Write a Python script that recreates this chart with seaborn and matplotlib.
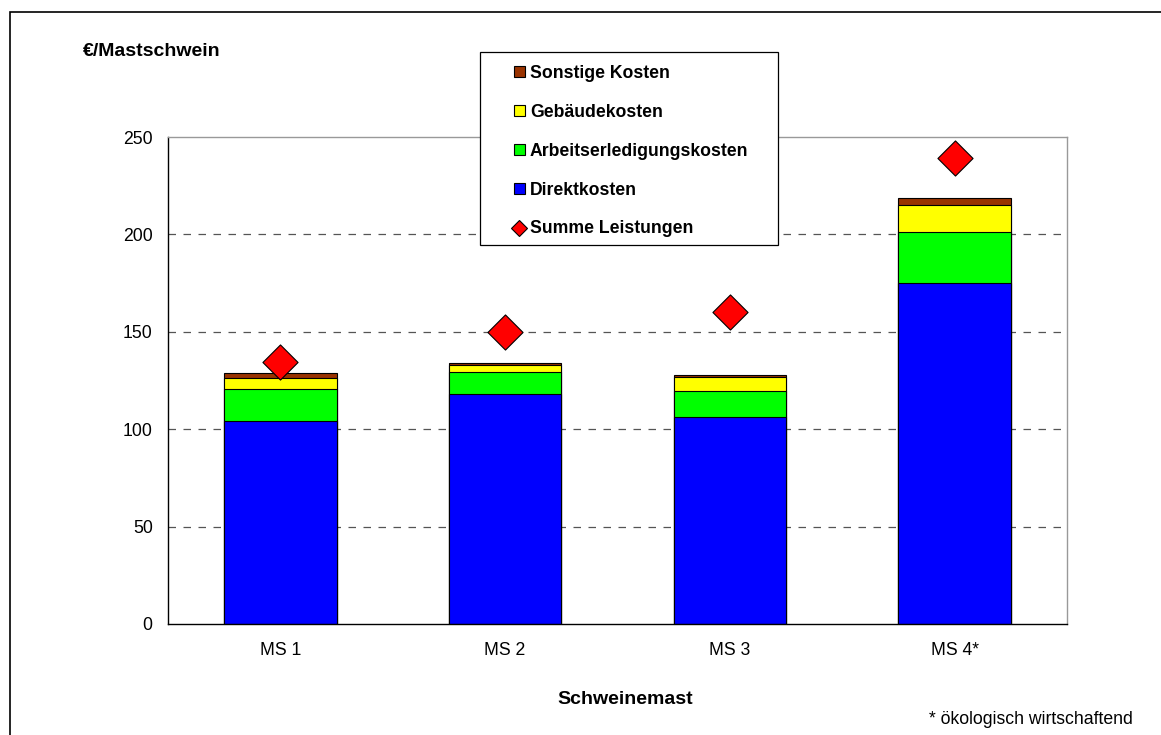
import matplotlib
matplotlib.use("Agg")
import matplotlib.pyplot as plt
import seaborn as sns
import numpy as np
import pandas as pd
from matplotlib.patches import Patch, Rectangle
from matplotlib.lines import Line2D

categories = ["MS 1", "MS 2", "MS 3", "MS 4*"]
direktkosten = [104.2, 118.1, 106.4, 175.0]
arbeitskosten = [16.3, 11.4, 13.0, 26.2]
gebaeudekosten = [5.8, 3.3, 7.4, 14.0]
sonstige_kosten = [2.4, 1.3, 1.2, 3.5]
summe_leistungen = [134.5, 150.0, 160.0, 239.0]

series_names = ["Direktkosten", "Arbeitserledigungskosten", "Gebäudekosten", "Sonstige Kosten"]
series_colors = ["#0000FF", "#00FF00", "#FFFF00", "#993300"]

sns.set_theme(style="white")
plt.rcParams["font.family"] = ["Liberation Sans", "DejaVu Sans"]
plt.rcParams["text.color"] = "black"
plt.rcParams["xtick.labelcolor"] = "black"
plt.rcParams["ytick.labelcolor"] = "black"
plt.rcParams["legend.labelcolor"] = "black"

fig = plt.figure(figsize=(11.61, 7.35), dpi=100)
W, H = 1161, 735
ax = fig.add_axes([168 / W, 1 - 624 / H, (1067 - 168) / W, (624 - 137) / H])

stack = np.cumsum(np.array([direktkosten, arbeitskosten, gebaeudekosten, sonstige_kosten]), axis=0)
# draw from top to bottom so lower segments overlay
for i in range(3, -1, -1):
    df = pd.DataFrame({"cat": categories, "val": stack[i]})
    sns.barplot(data=df, x="cat", y="val", color=series_colors[i], width=0.5,
                edgecolor="black", linewidth=0.8, saturation=1, ax=ax, zorder=2)

dfp = pd.DataFrame({"cat": categories, "val": summe_leistungen})
sns.scatterplot(data=dfp, x="cat", y="val", marker="D", s=320, color="#FF0000",
                edgecolor="black", linewidth=0.8, ax=ax, zorder=3, legend=False)

ax.set_ylim(0, 250)
ax.set_xlim(-0.5, 3.5)
ax.set_yticks([0, 50, 100, 150, 200, 250])
ax.set_yticklabels(["0", "50", "100", "150", "200", "250"], fontsize=12.7, color="black")
ax.set_xticks(range(4))
ax.set_xticklabels(categories, fontsize=12.7, color="black")
ax.set_xticks([-0.5, 0.5, 1.5, 2.5, 3.5], minor=True)
ax.tick_params(axis="x", which="major", length=0, pad=13)
ax.tick_params(axis="x", which="minor", length=5, direction="out", color="#444444", width=0.8)
ax.tick_params(axis="y", which="major", length=5, direction="out", color="black", width=0.8, pad=6)
ax.set_xlabel("")
ax.set_ylabel("")
for y in [50, 100, 150, 200]:
    ax.axhline(y, color="#555555", linestyle=(0, (6, 6)), linewidth=0.9, zorder=1)
for s in ["left", "bottom"]:
    ax.spines[s].set_color("black")
    ax.spines[s].set_linewidth(1.0)
for s in ["top", "right"]:
    ax.spines[s].set_color("#999999")
    ax.spines[s].set_linewidth(1.0)
    ax.spines[s].set_visible(True)

fig.text(83 / W, 1 - 52 / H, "€/Mastschwein", fontsize=14, fontweight="bold", ha="left", va="center", color="black")
fig.text(625 / W, 1 - 700 / H, "Schweinemast", fontsize=14, fontweight="bold", ha="center", va="center", color="black")
fig.text(1133 / W, 1 - 720 / H, "* ökologisch wirtschaftend", fontsize=12.7, ha="right", va="center", color="black")

# legend box
fig.patches.append(Rectangle((480 / W, 1 - 245 / H), (778 - 480) / W, (245 - 52) / H,
                             transform=fig.transFigure, facecolor="white", edgecolor="black",
                             linewidth=0.9, zorder=4))

handles = [Patch(facecolor=series_colors[i], edgecolor="black", linewidth=0.8) for i in range(3, -1, -1)]
labels = [series_names[i] for i in range(3, -1, -1)]
handles.append(Line2D([], [], marker="D", linestyle="none", markersize=8, markerfacecolor="#FF0000",
                      markeredgecolor="black", markeredgewidth=0.8))
labels.append("Summe Leistungen")
leg = fig.legend(handles, labels, loc="upper left", bbox_to_anchor=(514 / W, 1 - 65 / H),
                 frameon=False, prop={"weight": "bold", "size": 12.7},
                 handlelength=0.6, handleheight=0.6, labelcolor="black",
                 handletextpad=0.3, labelspacing=1.24, borderpad=0, borderaxespad=0)
leg.set_zorder(5)

fig.patches.append(Rectangle((10 / W, -0.1), 1.2, 1 - 12 / H + 0.1, transform=fig.transFigure,
                             fill=False, edgecolor="black", linewidth=1.2))

fig.savefig("out.png", dpi=100)
